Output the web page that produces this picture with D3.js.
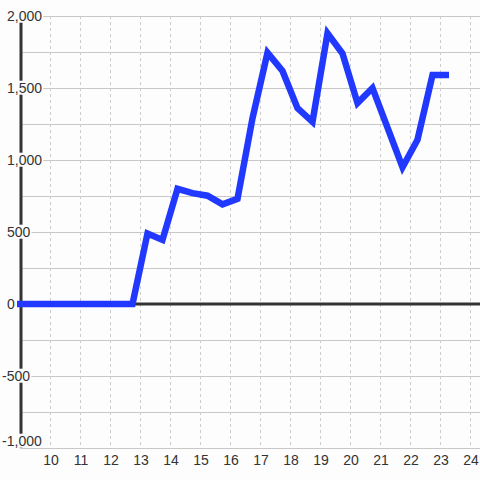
<!DOCTYPE html>
<html>
<head>
<meta charset="utf-8">
<script src="https://cdn.jsdelivr.net/npm/d3@7"></script>
<style>
  body { margin: 0; background: #fdfdfd; }
  svg text { font-family: "Liberation Sans", Arial, sans-serif; fill: #333; }
</style>
</head>
<body>
<div id="chart"></div>
<script>
// data (hour of day vs value)
const hours = [8.75, 9.25, 9.75, 10.25, 10.75, 11.25, 11.75, 12.25, 12.75, 13.25,
               13.75, 14.25, 14.75, 15.25, 15.75, 16.25, 16.75, 17.25, 17.75, 18.25,
               18.75, 19.25, 19.75, 20.25, 20.75, 21.25, 21.75, 22.25, 22.75, 23.3];
const values = [0, 0, 0, 0, 0, 0, 0, 0, 0, 490,
                445, 800, 770, 752, 692, 730, 1290, 1745, 1618, 1360,
                1265, 1880, 1740, 1395, 1500, 1225, 950, 1140, 1590, 1590];
const xTicks = [10, 11, 12, 13, 14, 15, 16, 17, 18, 19, 20, 21, 22, 23, 24];
const yTicks = [-1000, -500, 0, 500, 1000, 1500, 2000];
const yGrid = [-1000, -750, -500, -250, 0, 250, 500, 750, 1000, 1250, 1500, 1750, 2000];

const width = 480, height = 480;

const x = d3.scaleLinear().domain([9, 24]).range([20, 470]);
const y = d3.scaleLinear().domain([-1000, 2000]).range([448, 16]);

const svg = d3.select("#chart")
    .append("svg")
    .attr("width", width)
    .attr("height", height);

// horizontal grid (solid)
svg.append("g")
    .selectAll("line")
    .data(yGrid)
    .enter()
    .append("line")
    .attr("x1", 20).attr("x2", width)
    .attr("y1", d => y(d) + 0.5).attr("y2", d => y(d) + 0.5)
    .attr("stroke", "#c8c8c8")
    .attr("stroke-width", 1);

// vertical grid (dashed)
svg.append("g")
    .selectAll("line")
    .data(xTicks)
    .enter()
    .append("line")
    .attr("x1", d => x(d) + 0.5).attr("x2", d => x(d) + 0.5)
    .attr("y1", y(2000)).attr("y2", y(-1000))
    .attr("stroke", "#cccccc")
    .attr("stroke-width", 1)
    .attr("stroke-dasharray", "3,3");

// zero line
svg.append("line")
    .attr("x1", 20).attr("x2", width)
    .attr("y1", y(0)).attr("y2", y(0))
    .attr("stroke", "#333")
    .attr("stroke-width", 3);

// y axis line
svg.append("line")
    .attr("x1", 21).attr("x2", 21)
    .attr("y1", y(2000)).attr("y2", y(-1000))
    .attr("stroke", "#333")
    .attr("stroke-width", 3);

// y labels with a box behind them, kept inside the frame at the bottom
const fmt = d3.format(",");
const yLabels = svg.append("g")
    .selectAll("g")
    .data(yTicks)
    .enter()
    .append("g");

yLabels.append("text")
    .attr("x", 7)
    .attr("dx", d => d < 0 ? "-0.35em" : 0)
    .attr("y", d => Math.min(y(d) + 1, 442))
    .attr("dominant-baseline", "middle")
    .style("font-size", "14px")
    .text(d => fmt(d).replace("−", "-"));

yLabels.each(function() {
    const g = d3.select(this);
    const bb = g.select("text").node().getBBox();
    g.insert("rect", "text")
        .attr("x", bb.x - 1)
        .attr("y", bb.y + 1)
        .attr("width", bb.width + 2)
        .attr("height", bb.height - 2)
        .attr("fill", "#fdfdfd");
});

// x labels
svg.append("g")
    .selectAll("text")
    .data(xTicks)
    .enter()
    .append("text")
    .attr("x", d => x(d) + 1)
    .attr("y", 461)
    .attr("text-anchor", "middle")
    .attr("dominant-baseline", "middle")
    .style("font-size", "14px")
    .text(d => d);

// clip so the series starts at the left edge
svg.append("clipPath")
    .attr("id", "plotClip")
    .append("rect")
    .attr("x", 17).attr("y", 0)
    .attr("width", width - 17).attr("height", height);

const line = d3.line()
    .x((d, i) => x(hours[i]))
    .y(d => y(d));

svg.append("path")
    .datum(values)
    .attr("clip-path", "url(#plotClip)")
    .attr("d", line)
    .attr("fill", "none")
    .attr("stroke", "#2138ff")
    .attr("stroke-width", 6.5)
    .attr("stroke-linejoin", "miter");
</script>
</body>
</html>
